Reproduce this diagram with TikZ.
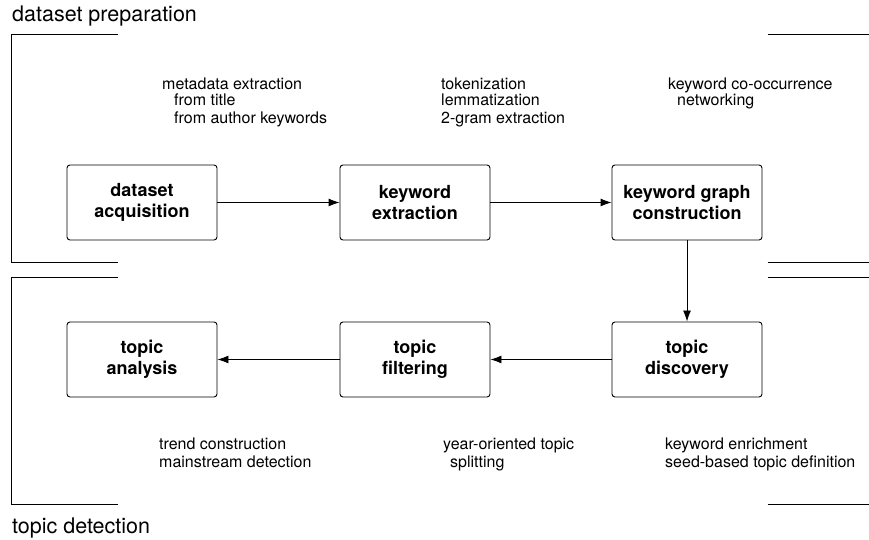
\documentclass[tikz,border=0pt]{standalone}
\usepackage{fontspec}
\setmainfont{TeX Gyre Heros}
\usetikzlibrary{arrows.meta}
\tikzset{
  stage/.style={draw, line width=0.9pt, rounded corners=3pt, minimum width=150pt, minimum height=75pt, inner sep=0pt, align=center, font=\fontsize{18}{21.5}\selectfont\bfseries},
  note/.style={anchor=base west, inner sep=0pt, font=\fontsize{16}{18}\selectfont},
  heading/.style={anchor=base west, inner sep=0pt, font=\fontsize{21.5}{25}\selectfont},
  flow/.style={line width=0.9pt, -{Latex[length=11pt,width=8pt]}},
  frame/.style={line width=0.9pt}
}
\begin{document}
\begin{tikzpicture}[x=1pt,y=1pt]
\useasboundingbox (0,0) rectangle (869,540);
% headings
\node[heading] (h1) at (12,518.3) {dataset preparation};
\node[heading] (h2) at (12,6) {topic detection};
% brackets
\draw[frame] (118,505.7) -- (11,505.7) -- (11,277.7) -- (118,277.7);
\draw[frame] (118,262.7) -- (11,262.7) -- (11,35.7) -- (118,35.7);
\draw[frame] (767.5,505.7) -- (869,505.7);
\draw[frame] (767.5,277.7) -- (869,277.7);
\draw[frame] (767.5,262.7) -- (869,262.7);
\draw[frame] (767.5,35.7) -- (869,35.7);
% stages
\node[stage] (acq) at (142,337.5) {dataset\\acquisition};
\node[stage] (kex) at (415,337.5) {keyword\\extraction};
\node[stage] (kgc) at (687,337.5) {keyword graph\\construction};
\node[stage] (tan) at (142,180.5) {topic\\analysis};
\node[stage] (tfi) at (415,180.5) {topic\\filtering};
\node[stage] (tdi) at (687,180.5) {topic\\discovery};
% connectors
\draw[flow] (acq) -- (kex);
\draw[flow] (kex) -- (kgc);
\draw[flow] (kgc) -- (tdi);
\draw[flow] (tdi) -- (tfi);
\draw[flow] (tfi) -- (tan);
% notes top
\node[note] (m1) at (162,450.7) {metadata extraction};
\node[note] (m2) at (174,434) {from title};
\node[note] (m3) at (174,416.7) {from author keywords};
\node[note] (t1) at (441,450.7) {tokenization};
\node[note] (t2) at (441,434) {lemmatization};
\node[note] (t3) at (441,416.7) {2-gram extraction};
\node[note] (k1) at (668,450.7) {keyword co-occurrence};
\node[note] (k2) at (677,434) {networking};
% notes bottom
\node[note] (r1) at (159,90.7) {trend construction};
\node[note] (r2) at (159,72.3) {mainstream detection};
\node[note] (y1) at (443,90.7) {year-oriented topic};
\node[note] (y2) at (450,72.3) {splitting};
\node[note] (e1) at (665,90.7) {keyword enrichment};
\node[note] (e2) at (665,72.3) {seed-based topic definition};
\end{tikzpicture}
\end{document}
